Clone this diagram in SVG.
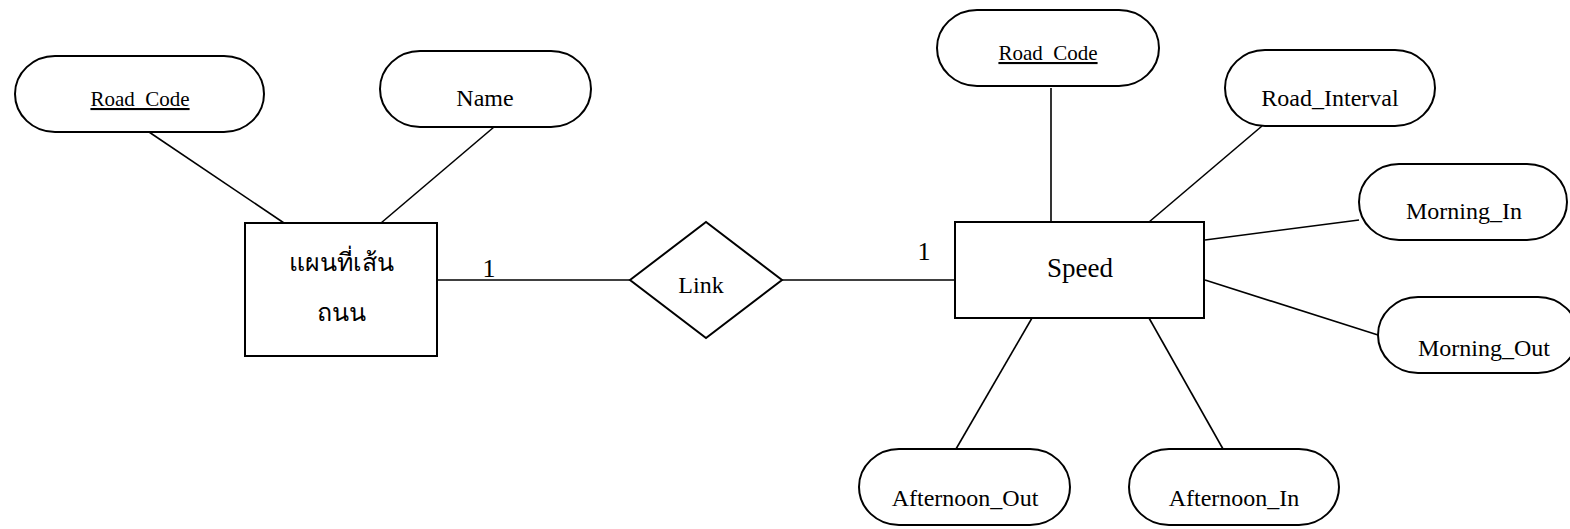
<svg xmlns="http://www.w3.org/2000/svg" width="1570" height="529" viewBox="0 0 1570 529">
<style>
.sh{fill:#fff;stroke:#000;stroke-width:2}
.cn line{stroke:#000;stroke-width:1.6}
text{font-family:"Liberation Serif","DejaVu Serif","Noto Sans",serif;fill:#000;text-anchor:middle}
.a{font-size:24px}
.k{font-size:21px;text-decoration:underline}
.e{font-size:27px}
.th{font-size:25px}
.c{font-size:26px}
</style>
<rect width="1570" height="529" fill="#fff"/>
<g id="connectors" class="cn">
<line x1="149" y1="132" x2="284" y2="223"/>
<line x1="494" y1="127" x2="381" y2="223"/>
<line x1="438" y1="280" x2="630" y2="280"/>
<line x1="782" y1="280" x2="955" y2="280"/>
<line x1="1051" y1="88" x2="1051" y2="222"/>
<line x1="1262" y1="126" x2="1149" y2="222"/>
<line x1="1205" y1="240" x2="1359" y2="220"/>
<line x1="1205" y1="280" x2="1378" y2="335"/>
<line x1="1032" y1="318" x2="956" y2="449"/>
<line x1="1149" y1="318" x2="1223" y2="449"/>
</g>
<g id="road_map">
<rect class="sh" x="245" y="223" width="192" height="133"/>
<text class="th" x="341" y="271">แผนที่เส้น</text>
<text class="th" x="341" y="321">ถนน</text>
</g>
<g id="rm_road_code">
<rect class="sh" x="15" y="56" width="249" height="76" rx="40" ry="38"/>
<text class="k" x="140" y="106">Road_Code</text>
</g>
<g id="rm_name">
<rect class="sh" x="380" y="51" width="211" height="76" rx="40" ry="38"/>
<text class="a" x="485" y="106">Name</text>
</g>
<g id="link">
<polygon class="sh" points="630,280 706,222 782,280 706,338"/>
<text class="a" x="701" y="293">Link</text>
</g>
<text class="c" x="489" y="277">1</text>
<text class="c" x="924" y="260">1</text>
<g id="speed">
<rect class="sh" x="955" y="222" width="249" height="96"/>
<text class="e" x="1080" y="277">Speed</text>
</g>
<g id="sp_road_code">
<rect class="sh" x="937" y="10" width="222" height="76" rx="40" ry="38"/>
<text class="k" x="1048" y="60">Road_Code</text>
</g>
<g id="sp_road_interval">
<rect class="sh" x="1225" y="50" width="210" height="76" rx="40" ry="38"/>
<text class="a" x="1330" y="106">Road_Interval</text>
</g>
<g id="sp_morning_in">
<rect class="sh" x="1359" y="164" width="208" height="76" rx="40" ry="38"/>
<text class="a" x="1464" y="219">Morning_In</text>
</g>
<g id="sp_morning_out">
<rect class="sh" x="1378" y="297" width="200" height="76" rx="40" ry="38"/>
<text class="a" x="1484" y="356">Morning_Out</text>
</g>
<g id="sp_afternoon_out">
<rect class="sh" x="859" y="449" width="211" height="76" rx="40" ry="38"/>
<text class="a" x="965" y="506">Afternoon_Out</text>
</g>
<g id="sp_afternoon_in">
<rect class="sh" x="1129" y="449" width="210" height="76" rx="40" ry="38"/>
<text class="a" x="1234" y="506">Afternoon_In</text>
</g>
</svg>
